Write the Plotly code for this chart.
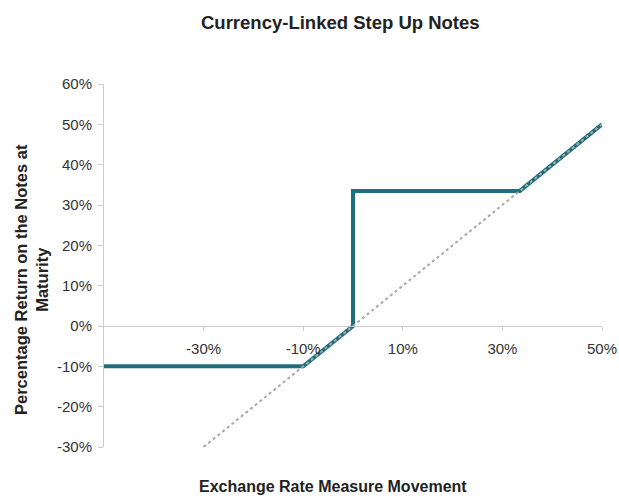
import plotly.graph_objects as go

# Data
payoff_x = [-0.5, -0.1, 0.0, 0.0, 0.335, 0.5]
payoff_y = [-0.1, -0.1, 0.0, 0.335, 0.335, 0.5]
ref_x = [-0.3, 0.5]
ref_y = [-0.3, 0.5]
x_ticks = [-0.3, -0.1, 0.1, 0.3, 0.5]
x_tick_labels = ["-30%", "-10%", "10%", "30%", "50%"]
y_ticks = [-0.3, -0.2, -0.1, 0.0, 0.1, 0.2, 0.3, 0.4, 0.5, 0.6]
y_tick_labels = ["-30%", "-20%", "-10%", "0%", "10%", "20%", "30%", "40%", "50%", "60%"]

fig = go.Figure()
fig.add_trace(go.Scatter(x=payoff_x, y=payoff_y, mode="lines",
                         line=dict(color="#1f6e7e", width=4), showlegend=False))
fig.add_trace(go.Scatter(x=ref_x, y=ref_y, mode="lines",
                         line=dict(color="#a8a8a8", width=2, dash="dot"), showlegend=False))

font = "Liberation Sans, Arial, sans-serif"
W, H = 619, 498
l, r, t, b = 104, 17, 84, 51
pw, ph = W - l - r, H - t - b
def px(xp): return (xp - l) / pw
def py(yp): return (H - b - yp) / ph

fig.update_layout(
    width=W, height=H,
    margin=dict(l=l, r=r, t=t, b=b, autoexpand=False),
    paper_bgcolor="white", plot_bgcolor="white",
    font=dict(family=font, size=15, color="#333333"),
    xaxis=dict(range=[-0.5, 0.5], tickvals=x_ticks, ticktext=x_tick_labels,
               anchor="free", position=1/3, showline=True, linecolor="#cccccc",
               linewidth=1, ticks="outside", ticklen=4, tickcolor="#cccccc",
               ticklabelstandoff=5, automargin=False,
               showgrid=False, zeroline=False, tickfont=dict(size=15, color="#333333")),
    yaxis=dict(range=[-0.3, 0.6], tickvals=y_ticks, ticktext=y_tick_labels,
               showline=True, linecolor="#cccccc", linewidth=1, ticks="outside",
               ticklen=5, tickcolor="#cccccc", showgrid=False, zeroline=False,
               ticklabelstandoff=3, automargin=False,
               tickfont=dict(size=15, color="#333333")),
    annotations=[
        dict(text="<b>Currency-Linked Step Up Notes</b>", x=px(340), y=py(23),
             xref="paper", yref="paper", showarrow=False,
             xanchor="center", yanchor="middle",
             font=dict(size=18.5, color="#222222")),
        dict(text="<b>Exchange Rate Measure Movement</b>", x=px(333), y=py(486),
             xref="paper", yref="paper", showarrow=False,
             xanchor="center", yanchor="middle",
             font=dict(size=16, color="#222222")),
        dict(text="<b>Percentage Return on the Notes at<br>Maturity</b>", textangle=-90,
             x=px(31), y=py(280), xref="paper", yref="paper", showarrow=False,
             xanchor="center", yanchor="middle",
             font=dict(size=16.5, color="#222222")),
    ],
)

fig.write_html("out.html")
